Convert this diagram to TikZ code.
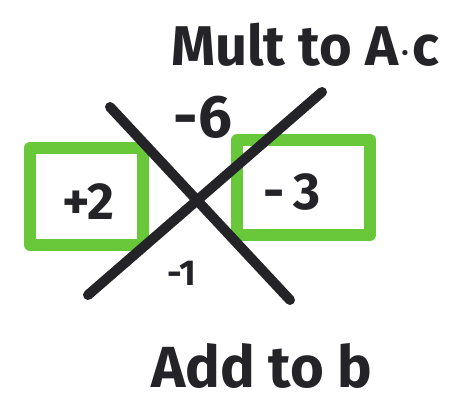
\documentclass[tikz,border=0pt]{standalone}
\usepackage{fontspec}
\setmainfont{Fira Sans}
\usetikzlibrary{calc,positioning}
\definecolor{marker}{RGB}{104,200,58}
\definecolor{ink}{RGB}{35,35,40}

\begin{document}
\begin{tikzpicture}[x=0.5pt,y=-0.5pt,
  hand/.style={text=ink,font=\bfseries\fontsize{26}{28}\selectfont,inner sep=0pt},
  small/.style={text=ink,font=\bfseries\fontsize{18}{20}\selectfont,inner sep=0pt},
  xline/.style={draw=ink,line width=5pt,line cap=round},
  box/.style={draw=marker,line width=6pt,line join=round}]
  \useasboundingbox (0,0) rectangle (472,400);
  % green boxes
  \draw[box] (30,148) rectangle (143,245);
  \draw[box] (237,140) rectangle (370,235);
  % the X
  \coordinate (ul) at (110,107);
  \coordinate (lr) at (290,300);
  \coordinate (ur) at (322,92);
  \coordinate (ll) at (88,295);
  \draw[xline] (ul)--(lr);
  \draw[xline] (ur)--(ll);
  % labels
  \node[hand,font=\bfseries\fontsize{28}{30}\selectfont] (mult) at (305,45) {Mult to A$\cdot$c};
  \node[hand,font=\bfseries\fontsize{30}{32}\selectfont] (top) at (203,117) {-6};
  \node[hand] (left) at (88,202) {+2};
  \node[hand] (right) at (292,192) {-\,3};
  \node[small] (bot) at (182,273) {-1};
  \node[hand,font=\bfseries\fontsize{29}{32}\selectfont] (add) at (262,366) {Add to b};
\end{tikzpicture}
\end{document}
